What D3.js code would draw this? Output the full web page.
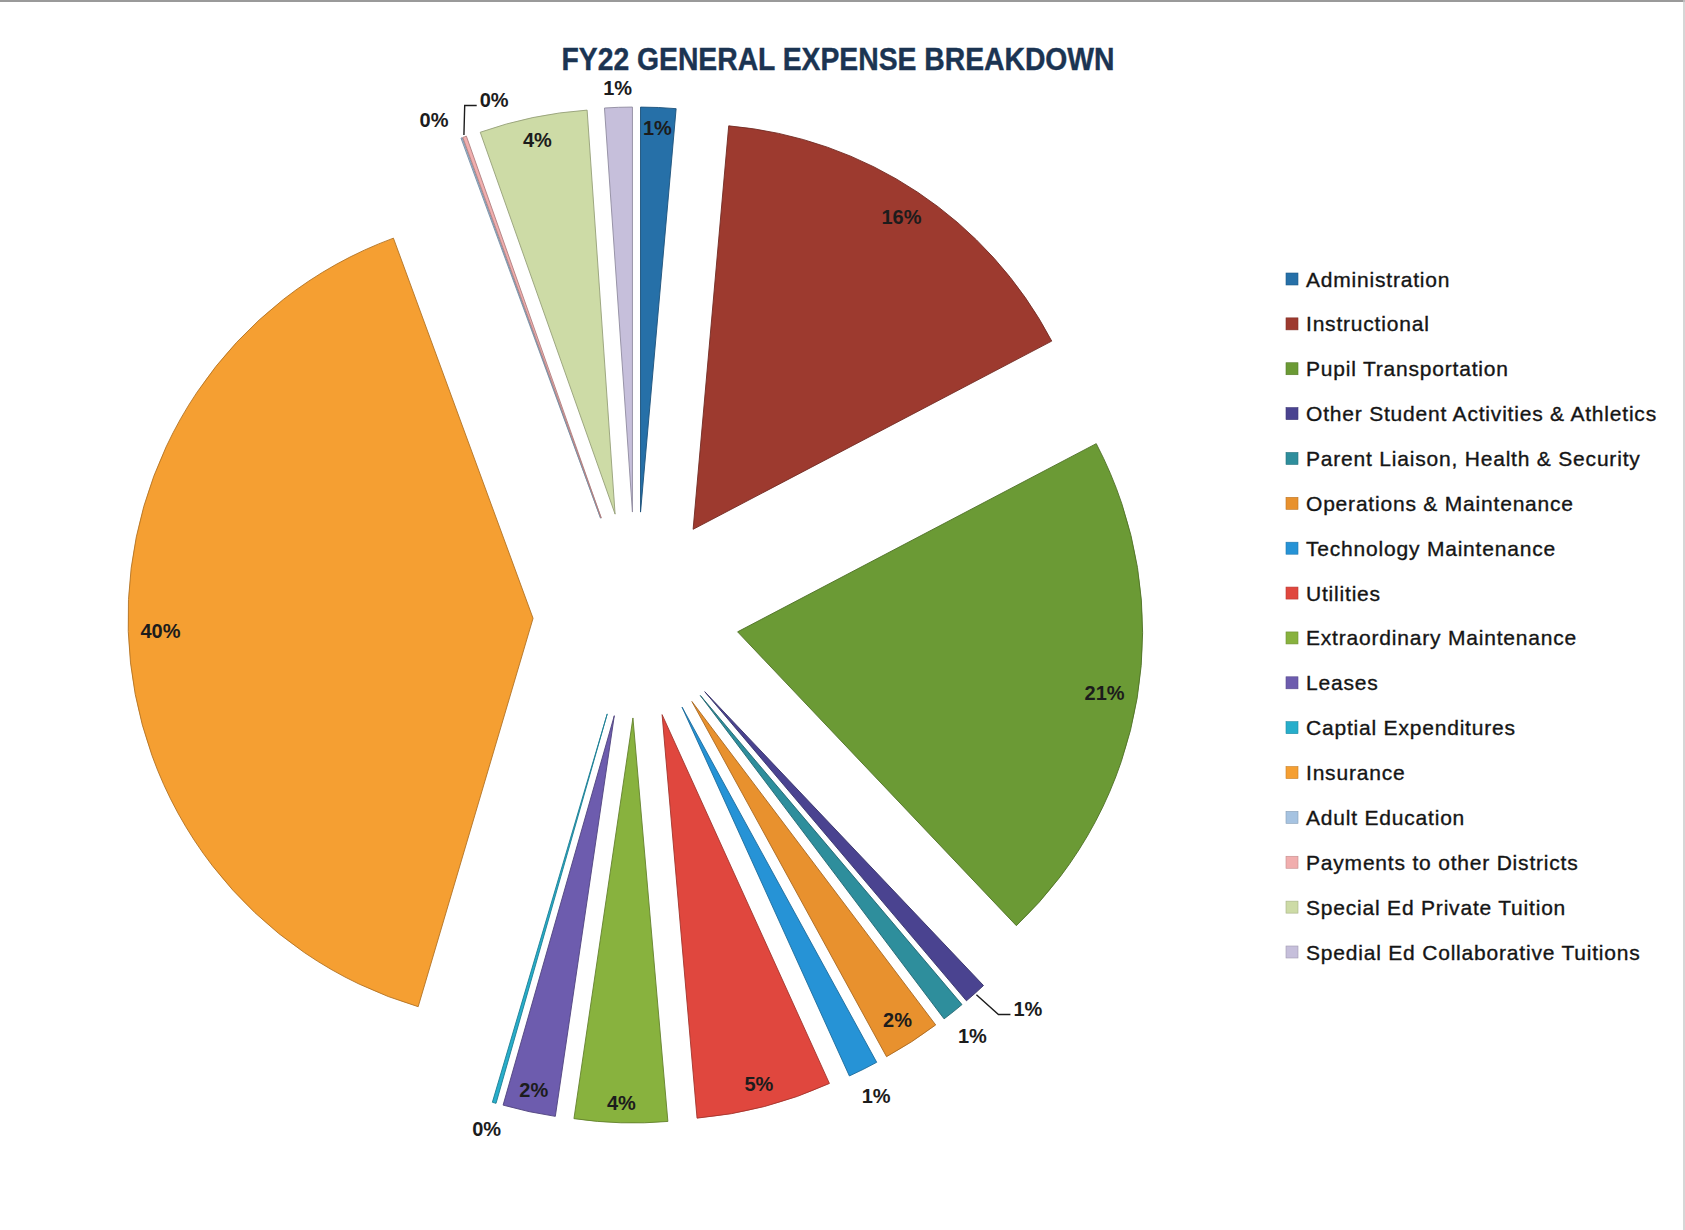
<!DOCTYPE html>
<html>
<head>
<meta charset="utf-8">
<title>FY22 General Expense Breakdown</title>
<script src="https://cdn.jsdelivr.net/npm/d3@7"></script>
<style>
  html, body { margin: 0; padding: 0; background: #ffffff; }
  svg { display: block; }
</style>
</head>
<body>
<svg id="chart" width="1685" height="1230"></svg>
<script>
// ---- data ----
const chartTitle = "FY22 GENERAL EXPENSE BREAKDOWN";

const categories = [
  "Administration",
  "Instructional",
  "Pupil Transportation",
  "Other Student Activities & Athletics",
  "Parent Liaison, Health & Security",
  "Operations & Maintenance",
  "Technology Maintenance",
  "Utilities",
  "Extraordinary Maintenance",
  "Leases",
  "Captial Expenditures",
  "Insurance",
  "Adult Education",
  "Payments to other Districts",
  "Special Ed Private Tuition",
  "Spedial Ed Collaborative Tuitions"
];

// share of the general budget, percent
const shares = [1.4, 15.9, 20.6, 0.9, 0.9, 2.3, 1.2, 5.4, 3.7, 2.1, 0.15, 39.8, 0.05, 0.15, 4.3, 1.1];

const sliceColors = [
  "#2670a8", "#9d3a2f", "#6b9a35", "#4a4390", "#2e8e9c", "#e8912e",
  "#2693d6", "#e0473e", "#88b23e", "#6d5cae", "#27aecb", "#f59f32",
  "#a6c3e1", "#f1aeae", "#cddba6", "#c6bfdb"
];

// ---- layout ----
const W = 1685, H = 1230;
const cx = 636, cy = 615;        // pie centre
const R = 405;                   // pie radius
const explode = 103;             // distance every slice is pulled out
const padIn = 12, padOut = 16;   // label gap from the rim
const labelFont = 20;

// where each data label sits relative to its slice
const labelPlacement = [
  "inside", "inside", "inside", "outside", "outside", "inside", "outside", "inside",
  "inside", "inside", "outside", "inside", "outside", "outside", "inside", "outside"
];
// labels dragged away from their default spot (dx, dy) and whether they get a leader line
const labelMoves = {
  3:  { dx: 32, dy: -8, leader: true },
  12: { dx: -18, dy: 8, leader: false },
  13: { dx: 39, dy: -11, leader: true },
  15: { dx: 0, dy: 4, leader: false }
};

const svg = d3.select("#chart");
svg.append("rect").attr("width", W).attr("height", H).attr("fill", "#ffffff");

// scanned page edge
svg.append("line").attr("x1", 0).attr("x2", W).attr("y1", 1).attr("y2", 1)
  .attr("stroke", "#9a9a9a").attr("stroke-width", 2);
svg.append("line").attr("x1", W - 1).attr("x2", W - 1).attr("y1", 0).attr("y2", H)
  .attr("stroke", "#c8c8c8").attr("stroke-width", 1.5);

// title
svg.append("text")
  .attr("x", 838).attr("y", 70)
  .attr("text-anchor", "middle")
  .attr("font-family", "'Liberation Sans', Arial, sans-serif")
  .attr("font-weight", "bold")
  .attr("font-size", 32)
  .attr("fill", "#1b3452")
  .attr("stroke", "#1b3452")
  .attr("stroke-width", 0.4)
  .attr("textLength", 553)
  .attr("lengthAdjust", "spacingAndGlyphs")
  .text(chartTitle);

const color = d3.scaleOrdinal(categories, sliceColors);

const pie = d3.pie().sort(null).value(d => d.value);
const items = categories.map((name, i) => ({ name, value: shares[i], i }));
const arcs = pie(items);
const total = d3.sum(shares);

const arc = d3.arc().innerRadius(0).outerRadius(R);

const unit = a => [Math.sin(a), -Math.cos(a)];

const pieG = svg.append("g").attr("transform", `translate(${cx},${cy})`);

const slices = pieG.selectAll("g.slice")
  .data(arcs)
  .join("g")
  .attr("class", "slice")
  .attr("transform", d => {
    const mid = (d.startAngle + d.endAngle) / 2;
    const [ux, uy] = unit(mid);
    return `translate(${ux * explode},${uy * explode})`;
  });

slices.append("path")
  .attr("d", arc)
  .attr("fill", d => color(d.data.name))
  .attr("stroke", d => d3.color(color(d.data.name)).darker(0.9))
  .attr("stroke-width", 0.9)
  .attr("stroke-linejoin", "round");

// data labels
const labelG = pieG.append("g");
arcs.forEach((d, k) => {
  const mid = (d.startAngle + d.endAngle) / 2;
  const [ux, uy] = unit(mid);
  const ox = ux * explode, oy = uy * explode;
  const txt = Math.round(d.data.value / total * 100) + "%";

  const t = labelG.append("text")
    .attr("font-family", "'Liberation Sans', Arial, sans-serif")
    .attr("font-weight", "bold")
    .attr("font-size", labelFont)
    .attr("fill", "#1c1c1c")
    .attr("text-anchor", "middle")
    .attr("dy", "0.36em")
    .text(txt);

  const bw = t.node().getComputedTextLength();
  const bh = 15;
  const halfExt = (bw / 2) * Math.abs(ux) + (bh / 2) * Math.abs(uy);
  const dist = labelPlacement[k] === "inside" ? R - padIn - halfExt : R + padOut + halfExt;
  let lx = ox + ux * dist, ly = oy + uy * dist;

  const move = labelMoves[k];
  if (move) {
    lx += move.dx; ly += move.dy;
    if (move.leader) {
      const sx = ox + ux * (R + 2), sy = oy + uy * (R + 2);
      const left = lx - bw / 2;
      const ey = ly + 6;
      labelG.append("polyline")
        .attr("points", [[sx, sy], [left - 15, ey], [left - 3, ey]].map(p => p.join(",")).join(" "))
        .attr("fill", "none")
        .attr("stroke", "#1c1c1c")
        .attr("stroke-width", 1.4);
    }
  }
  t.attr("x", lx).attr("y", ly);
});

// legend
const legendY = d3.scalePoint().domain(categories).range([279, 952]);
const legend = svg.append("g");
const rows = legend.selectAll("g.row")
  .data(categories)
  .join("g")
  .attr("class", "row")
  .attr("transform", d => `translate(1286,${legendY(d)})`);

rows.append("rect")
  .attr("x", 0).attr("y", -6)
  .attr("width", 12).attr("height", 12)
  .attr("fill", d => color(d))
  .attr("stroke", d => d3.color(color(d)).darker(0.6))
  .attr("stroke-width", 0.6);

rows.append("text")
  .attr("x", 20).attr("dy", "0.36em")
  .attr("font-family", "'Liberation Sans', Arial, sans-serif")
  .attr("font-size", 21)
  .attr("letter-spacing", 0.8)
  .attr("fill", "#151515")
  .attr("stroke", "#151515")
  .attr("stroke-width", 0.35)
  .text(d => d);
</script>
</body>
</html>
